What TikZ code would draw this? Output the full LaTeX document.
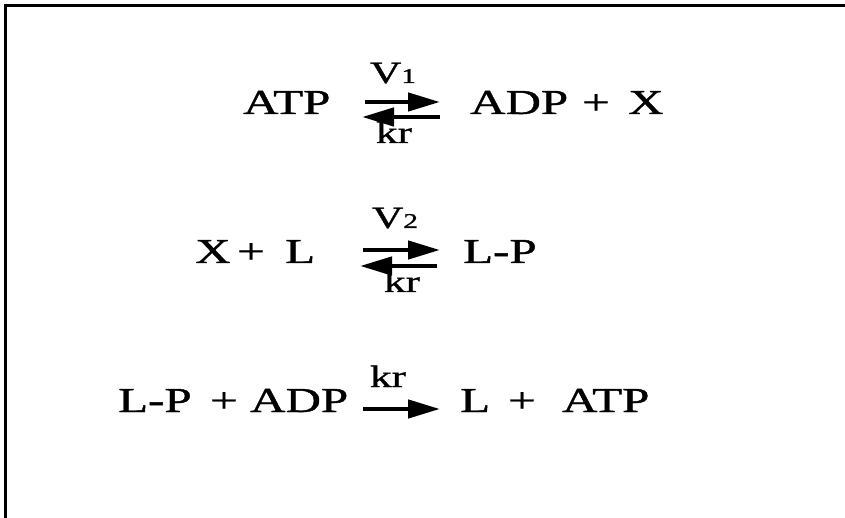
\documentclass[tikz,border=0pt]{standalone}
\usepackage{fontspec}
\setmainfont[FakeStretch=1.4,FakeBold=1.2]{Liberation Serif}
\usetikzlibrary{arrows.meta}

\newcommand{\ratesub}[1]{{\fontsize{21}{24}\selectfont #1}}

\begin{document}
\begin{tikzpicture}[
  x=1pt, y=-1pt,
  every node/.style={font=\fontsize{35}{40}\selectfont, inner sep=0pt, anchor=base west},
  rate/.style={font=\fontsize{31}{34}\selectfont, anchor=base},
  rxn/.style={line width=4.5pt, -{Triangle[length=32pt,width=18pt]}},
]
\useasboundingbox (0,0) rectangle (845,518);
\draw[line width=3pt] (5,518) -- (5,6) -- (845,6);

% ATP <-> ADP + X
\node (atpA) at (243,114) {ATP};
\node (adpA) at (470,114) {ADP};
\node (plusA) at (582,114) {+};
\node (xA)   at (628,114) {X};
\coordinate (fwdAs) at (365,102);
\coordinate (fwdAe) at (440,102);
\coordinate (revAs) at (440,117);
\coordinate (revAe) at (362,117);
\draw[rxn] (fwdAs) -- (fwdAe);
\draw[rxn] (revAs) -- (revAe);
\node[rate] (vA)  at (393,83)  {V\ratesub{1}};
\node[rate] (krA) at (394,143) {kr};

% X + L <-> L-P
\node (xB)    at (195,263) {X};
\node (plusB) at (237,263) {+};
\node (lB)    at (285,263) {L};
\node (lpB)   at (463,263) {L-P};
\coordinate (fwdBs) at (363,250);
\coordinate (fwdBe) at (440,250);
\coordinate (revBs) at (437,266);
\coordinate (revBe) at (360,266);
\draw[rxn] (fwdBs) -- (fwdBe);
\draw[rxn] (revBs) -- (revBe);
\node[rate] (vB)  at (395,228) {V\ratesub{2}};
\node[rate] (krB) at (402,292) {kr};

% L-P + ADP -> L + ATP
\node (lpC)    at (118,412) {L-P};
\node (plusC)  at (210,412) {+};
\node (adpC)   at (250,412) {ADP};
\node (lC)     at (460,412) {L};
\node (plusC2) at (508,412) {+};
\node (atpC)   at (562,412) {ATP};
\coordinate (fwdCs) at (363,409);
\coordinate (fwdCe) at (440,409);
\draw[rxn] (fwdCs) -- (fwdCe);
\node[rate] (krC) at (388,387) {kr};
\end{tikzpicture}
\end{document}
